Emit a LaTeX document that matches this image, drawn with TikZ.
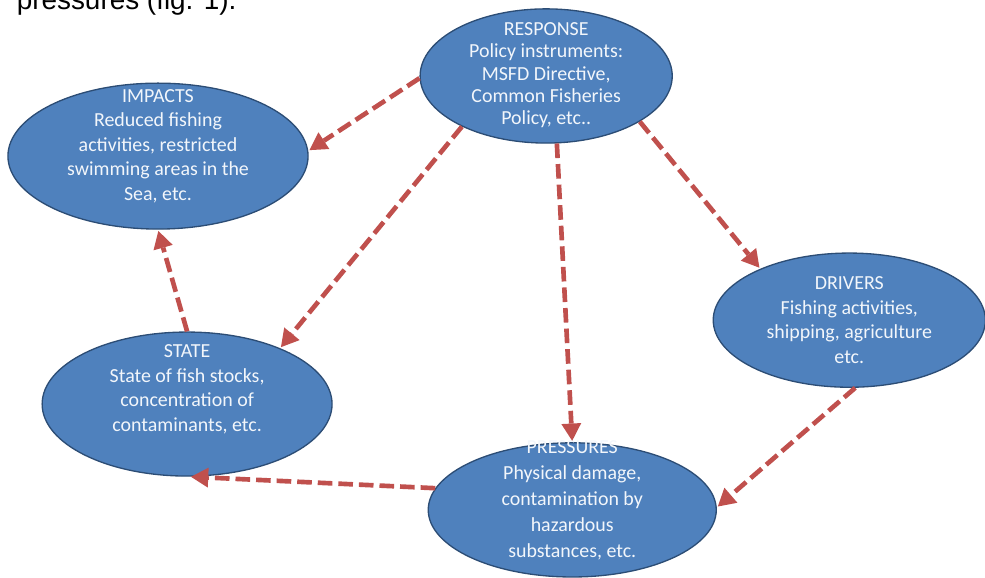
\documentclass[tikz,border=0pt]{standalone}
\usepackage{fontspec}
\setmainfont{Carlito}
\newfontfamily\introfont{Liberation Sans}
\usetikzlibrary{arrows.meta,positioning,shapes.geometric}
\definecolor{boxblue}{HTML}{4F81BD}
\definecolor{boxline}{HTML}{2C4D75}
\definecolor{flowred}{HTML}{C0504D}
\definecolor{boxtext}{HTML}{F2F6FB}
% extra depth below the last line lifts the text inside its ellipse
\newcommand{\droptext}[1]{\rule[-#1]{0pt}{0pt}}

\begin{document}
\begin{tikzpicture}[shorten >=1pt,on grid,auto,
    box/.style={ellipse,draw=boxline,line width=1pt,fill=boxblue,text=boxtext,
      align=center,inner xsep=0pt,inner ysep=-20pt,
      font=\fontsize{15}{18.5}\selectfont},
    flow/.style={-{Triangle[length=13pt,width=15pt,line width=0pt]},color=flowred,
      line width=3.5pt,dash pattern=on 11pt off 4.5pt}]
   \useasboundingbox (0,0) rectangle (26.06,-15.29);
   \node [anchor=base west,font=\introfont\fontsize{21}{25}\selectfont] (intro) at (0.32,-0.24) {pressures (fig. 1).};
   \node [box,minimum width=6.67cm,minimum height=3.55cm,font=\fontsize{15}{16.8}\selectfont] (resp) at (14.45,-2.01)
     {RESPONSE\\Policy instruments:\\MSFD Directive,\\Common Fisheries\\Policy, etc..\droptext{3.5pt}};
   \node [box,minimum width=7.94cm,minimum height=3.86cm] (imp) [below left=2.12cm and 10.27cm of resp]
     {IMPACTS\\Reduced fishing\\activities, restricted\\swimming areas in the\\Sea, etc.\droptext{17pt}};
   \node [box,minimum width=7.20cm,minimum height=3.55cm] (drv) [below right=6.46cm and 8.02cm of resp]
     {DRIVERS\\Fishing activities,\\shipping, agriculture\\etc.};
   \node [box,minimum width=7.67cm,minimum height=3.81cm] (state) [below left=8.68cm and 9.50cm of resp]
     {STATE\\State of fish stocks,\\concentration of\\contaminants, etc.\droptext{24pt}};
   \node [box,minimum width=7.62cm,minimum height=3.55cm,font=\fontsize{15}{19.5}\selectfont] (pres) [below right=11.48cm and 0.69cm of resp]
     {PRESSURES\\Physical damage,\\contamination by\\hazardous\\substances, etc.\droptext{16pt}};
    \path[flow]
    (resp.181) edge (imp.2)
    (resp.211) edge (state.31)
    (resp.279) edge (pres.90)
    (resp.334) edge (drv.150)
    (drv.275) edge (pres.1)
    (pres.171) edge (state.272)
    (state.90) edge (imp.270);
\end{tikzpicture}
\end{document}
